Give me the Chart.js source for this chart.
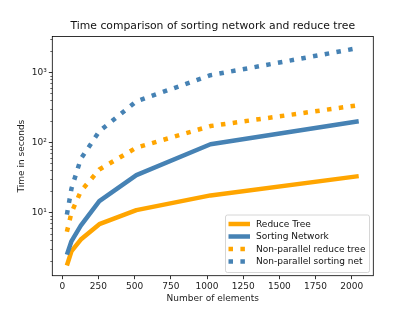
<!DOCTYPE html>
<html>
<head>
<meta charset="utf-8">
<script src="https://cdn.jsdelivr.net/npm/chart.js@4.4.0/dist/chart.umd.min.js"></script>
<style>
  html, body { margin: 0; padding: 0; background: #fff; }
  #wrap { width: 415px; height: 311px; }
</style>
</head>
<body>
<div id="wrap"><canvas id="grafico"></canvas></div>
<script>
const sizes = [32, 64, 128, 256, 512, 1024, 2048];
const reduceTree = [1.75, 2.8, 4.1, 6.8, 10.8, 17.5, 33];
const sortingNet = [2.5, 3.9, 6.5, 14.5, 34, 94, 200];
const nonParReduce = [5.3, 10, 20, 41, 84, 171, 340];
const nonParSort = [9.3, 22, 58, 144, 385, 910, 2230];

const xTicks = [0, 250, 500, 750, 1000, 1250, 1500, 1750, 2000];
const yMajor = [10, 100, 1000];
const yLabels = ['10¹', '10²', '10³'];
const yMinor = [2, 3, 4, 5, 6, 7, 8, 9, 20, 30, 40, 50, 60, 70, 80, 90,
  200, 300, 400, 500, 600, 700, 800, 900, 2000, 3000];

const ORANGE = '#FFA500';
const BLUE = '#4682B4';
const FONT = 'DejaVu Sans';

function pts(ys) {
  return sizes.map((x, i) => ({ x: x, y: ys[i] }));
}

// frame, y tick marks and the legend box, drawn like matplotlib
const mplLook = {
  id: 'mplLook',
  afterDraw(chart) {
    const ctx = chart.ctx;
    const a = chart.chartArea;
    const ys = chart.scales.y;
    ctx.save();
    ctx.strokeStyle = '#000';
    ctx.lineWidth = 0.8;
    ctx.strokeRect(a.left, a.top, a.right - a.left, a.bottom - a.top);

    ys.ticks.forEach(t => {
      const y = Math.round(ys.getPixelForValue(t.value)) + 0.5;
      const len = yMajor.includes(t.value) ? 3.5 : 2;
      ctx.lineWidth = yMajor.includes(t.value) ? 0.8 : 0.6;
      ctx.beginPath();
      ctx.moveTo(a.left - len, y);
      ctx.lineTo(a.left, y);
      ctx.stroke();
    });

    // legend
    const bx = 225.5, by = 215, bw = 144, bh = 57.5;
    ctx.fillStyle = 'rgba(255,255,255,0.8)';
    ctx.strokeStyle = '#cccccc';
    ctx.lineWidth = 0.8;
    ctx.beginPath();
    ctx.roundRect(bx, by, bw, bh, 2);
    ctx.fill();
    ctx.stroke();

    const rows = [224, 236.5, 249, 261.5];
    ctx.font = '9px ' + FONT;
    ctx.textBaseline = 'middle';
    chart.data.datasets.forEach((ds, i) => {
      const y = rows[i];
      ctx.strokeStyle = ds.borderColor;
      ctx.lineWidth = ds.borderWidth;
      ctx.lineCap = 'butt';
      ctx.setLineDash(ds.borderDash || []);
      ctx.beginPath();
      ctx.moveTo(228.5, y);
      ctx.lineTo(250, y);
      ctx.stroke();
      ctx.setLineDash([]);
      ctx.fillStyle = '#111';
      ctx.fillText(ds.label, 256, y + 0.5);
    });
    ctx.restore();
  }
};

const ctx = document.getElementById('grafico');
const myChart = new Chart(ctx, {
  type: 'line',
  data: {
    datasets: [{
      label: 'Reduce Tree',
      data: pts(reduceTree),
      borderColor: ORANGE,
      borderWidth: 4.5,
      order: 4
    }, {
      label: 'Sorting Network',
      data: pts(sortingNet),
      borderColor: BLUE,
      borderWidth: 4.5,
      order: 3
    }, {
      label: 'Non-parallel reduce tree',
      data: pts(nonParReduce),
      borderColor: ORANGE,
      borderWidth: 4.5,
      borderDash: [4.5, 7.4],
      borderCapStyle: 'butt',
      order: 2
    }, {
      label: 'Non-parallel sorting net',
      data: pts(nonParSort),
      borderColor: BLUE,
      borderWidth: 4.5,
      borderDash: [4.5, 7.4],
      borderCapStyle: 'butt',
      order: 1
    }]
  },
  options: {
    responsive: true,
    maintainAspectRatio: false,
    animation: false,
    layout: { padding: { left: 0, right: 41.7, top: 0, bottom: 0 } },
    elements: {
      point: { radius: 0 },
      line: { tension: 0, fill: false, borderJoinStyle: 'round' }
    },
    scales: {
      x: {
        type: 'linear',
        min: -68.8,
        max: 2148.8,
        afterBuildTicks: s => { s.ticks = xTicks.map(v => ({ value: v })); },
        afterFit: s => { s.height = 35.3; },
        grid: { drawOnChartArea: false, tickLength: 3.5, tickColor: '#000', tickWidth: 0.8 },
        border: { display: false },
        ticks: {
          color: '#222',
          padding: 2.5,
          maxRotation: 0,
          autoSkip: false,
          font: { family: FONT, size: 9 },
          callback: v => String(v)
        },
        title: {
          display: true,
          text: 'Number of elements',
          color: '#222',
          padding: { top: 0, bottom: 6.6 },
          font: { family: FONT, size: 9 }
        }
      },
      y: {
        type: 'logarithmic',
        min: 1.25,
        max: 3250,
        afterBuildTicks: s => {
          s.ticks = yMajor.concat(yMinor).sort((a, b) => a - b).map(v => ({ value: v }));
        },
        afterFit: s => { s.width = 52.3; },
        grid: { drawOnChartArea: false, drawTicks: false },
        border: { display: false },
        ticks: {
          color: '#222',
          padding: 5.5,
          autoSkip: false,
          font: { family: FONT, size: 9 },
          callback: v => {
            const i = yMajor.indexOf(v);
            return i >= 0 ? yLabels[i] : '';
          }
        },
        title: {
          display: true,
          text: 'Time in seconds',
          color: '#222',
          padding: { top: 16.6, bottom: 0 },
          font: { family: FONT, size: 9 }
        }
      }
    },
    plugins: {
      legend: { display: false },
      tooltip: { enabled: false },
      title: {
        display: true,
        fullSize: false,
        text: 'Time comparison of sorting network and reduce tree',
        color: '#111',
        padding: { top: 20, bottom: 3.5 },
        font: { family: FONT, size: 10.8, weight: 'normal' }
      }
    }
  },
  plugins: [mplLook]
});
</script>
</body>
</html>
